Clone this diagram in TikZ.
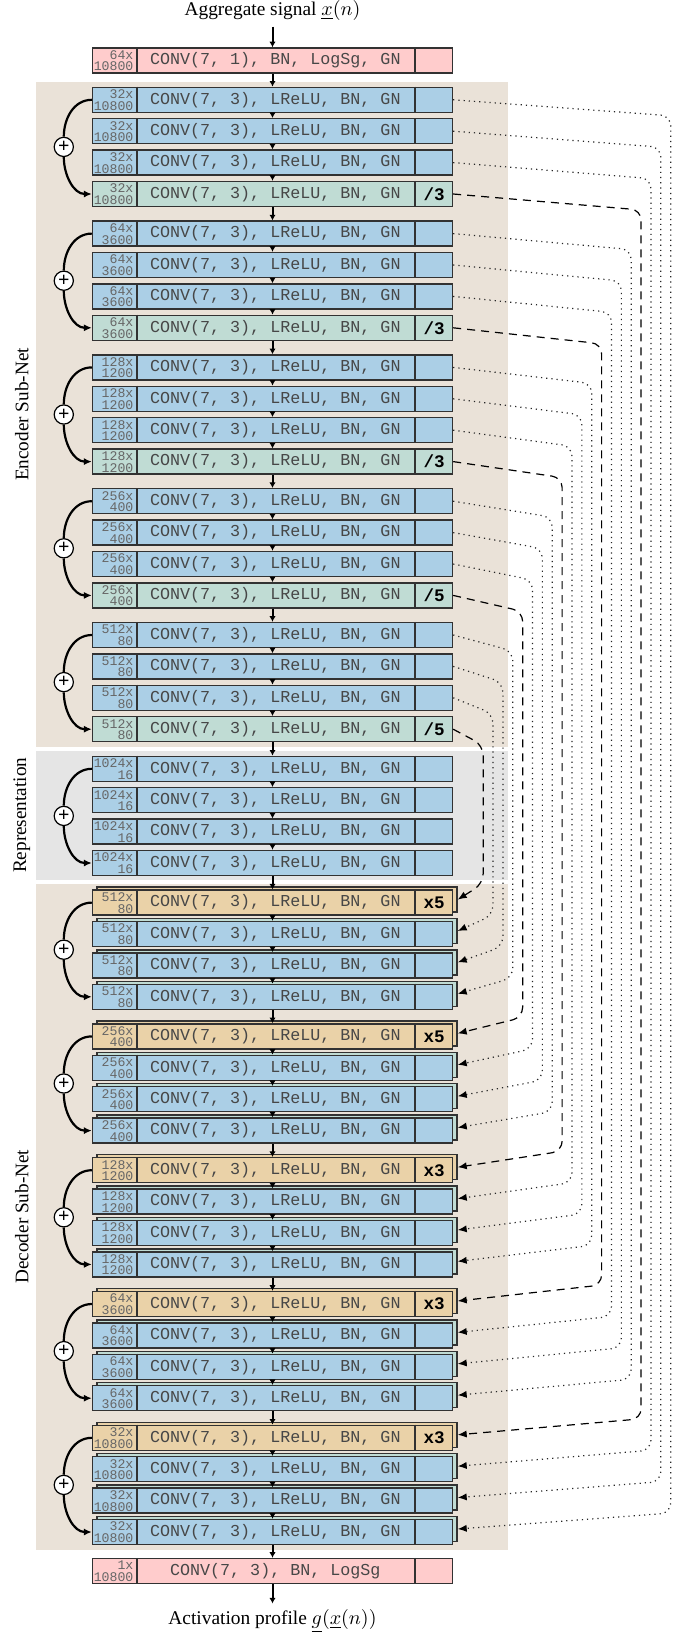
\documentclass[tikz,border=0pt]{standalone}
\usepackage{fontspec}
\setmainfont{Liberation Serif}
\setmonofont{Liberation Mono}
\usetikzlibrary{arrows.meta,calc}

\definecolor{cpink}{RGB}{255,204,204}
\definecolor{cblue}{RGB}{171,207,230}
\definecolor{cgreen}{RGB}{192,220,212}
\definecolor{ctan}{RGB}{234,210,168}
\definecolor{cencbg}{RGB}{234,226,216}
\definecolor{crepbg}{RGB}{229,229,229}
\definecolor{cborder}{RGB}{50,50,50}

\tikzset{
  blockbox/.style={rectangle, draw=cborder, line width=0.7pt, minimum width=180pt, minimum height=12.5pt, inner sep=0pt},
  sepline/.style={draw=cborder, line width=0.7pt},
  dimtext/.style={font=\fontsize{6.6}{5.8}\selectfont\ttfamily, text=black!60, align=right, inner sep=0pt, anchor=east},
  maintext/.style={font=\fontsize{8.35}{10}\selectfont\ttfamily, text=black!72, inner sep=0pt},
  optext/.style={font=\fontsize{8.8}{10}\selectfont\ttfamily\bfseries, text=black, inner sep=0pt},
  flow/.style={line width=1pt, -{Latex[length=2.8pt,width=3.2pt]}},
  skipline/.style={line width=1.1pt},
  skiparrow/.style={line width=1.1pt, -{Latex[length=4pt,width=3.6pt]}},
  plusnode/.style={circle, draw=black, fill=white, line width=0.6pt, minimum size=9.6pt, inner sep=0pt, font=\fontsize{10}{10}\selectfont\bfseries},
  dotconn/.style={dotted, line width=0.6pt, draw=black!85, rounded corners=5pt, -{Latex[length=4.5pt,width=3.6pt,black]}},
  dashconn/.style={dash pattern=on 4pt off 3pt, line width=0.6pt, draw=black, rounded corners=5pt, -{Latex[length=4.5pt,width=3.6pt,black]}},
  sidelabel/.style={rotate=90, font=\fontsize{9.6}{11}\selectfont, inner sep=0pt},
  titletext/.style={font=\fontsize{9.7}{11}\selectfont, inner sep=3pt},
}

\newcommand{\blk}[7]{%
  \node[blockbox, fill=#3] (#1) at (272.5,#2) {};
  \draw[sepline] ($(#1.north west)+(45.2,0)$) -- ($(#1.south west)+(45.2,0)$);
  \draw[sepline] ($(#1.north east)+(-38.2,0)$) -- ($(#1.south east)+(-38.2,0)$);
  \node[dimtext] (#1d) at ($(#1.west)+(42,0.3)$) {#4\\#5};
  \node[maintext] (#1t) at ($(#1.west)+(183.5,0)$) {#6};
  \node[optext] (#1o) at ($(#1.east)+(-19,0)$) {#7};
}
\newcommand{\dblk}[8]{%
  \node[blockbox, fill=#4] (#1s) at ($(272.5,#2)+(4.5,-3)$) {};
  \blk{#1}{#2}{#3}{#5}{#6}{#7}{#8}%
}

\begin{document}
\begin{tikzpicture}[x=0.5pt,y=-0.5pt]
\useasboundingbox (0,0) rectangle (693,1634);

% backgrounds
\fill[cencbg] (36,81.7) rectangle (508,747.3);
\fill[crepbg] (36,750.7) rectangle (508,880);
\fill[cencbg] (36,884) rectangle (508,1549.5);

\node[sidelabel] (lenc) at (21.7,414.5) {Encoder Sub-Net};
\node[sidelabel] (lrep) at (21.7,815.3) {Representation};
\node[sidelabel] (ldec) at (21.7,1216.7) {Decoder Sub-Net};

% top and bottom blocks
\blk{p0}{60.5}{cpink}{64x}{10800}{CONV(7, 1), BN, LogSg, GN}{}
\blk{p1}{1571}{cpink}{1x}{10800}{CONV(7, 3), BN, LogSg}{}

% encoder
\foreach \j/\da/\db/\dv in {0/32x/10800/3, 1/64x/3600/3, 2/128x/1200/3, 3/256x/400/5, 4/512x/80/5} {
  \foreach \k in {0,1,2,3} {
    \pgfmathtruncatemacro\idx{\j*4+\k+1}
    \pgfmathsetmacro\yy{99.8+133.8*\j+31.4*\k}
    \ifnum\k=3
      \blk{e\idx}{\yy}{cgreen}{\da}{\db}{CONV(7, 3), LReLU, BN, GN}{/\dv}
    \else
      \blk{e\idx}{\yy}{cblue}{\da}{\db}{CONV(7, 3), LReLU, BN, GN}{}
    \fi
  }
}

% representation
\foreach \k in {0,1,2,3} {
  \pgfmathtruncatemacro\idx{\k+1}
  \pgfmathsetmacro\yy{99.8+133.8*5+31.4*\k}
  \blk{r\idx}{\yy}{cblue}{1024x}{16}{CONV(7, 3), LReLU, BN, GN}{}
}

% decoder
\foreach \j/\da/\db/\mv in {6/512x/80/5, 7/256x/400/5, 8/128x/1200/3, 9/64x/3600/3, 10/32x/10800/3} {
  \foreach \k in {0,1,2,3} {
    \pgfmathtruncatemacro\idx{(\j-6)*4+\k+1}
    \pgfmathsetmacro\yy{99.8+133.8*\j+31.4*\k}
    \ifnum\k=0
      \dblk{d\idx}{\yy}{ctan}{ctan}{\da}{\db}{CONV(7, 3), LReLU, BN, GN}{x\mv}
    \else
      \dblk{d\idx}{\yy}{cblue}{cgreen}{\da}{\db}{CONV(7, 3), LReLU, BN, GN}{}
    \fi
  }
}

% title and output
\node[titletext, anchor=south] (title) at (272.5,26.5) {Aggregate signal $\underline{x}(n)$};
\node[titletext, anchor=north] (out) at (272.5,1603.5) {Activation profile $\underline{g}(\underline{x}(n))$};

% flow arrows
\draw[flow] (title.south) -- (p0.north);
\draw[flow] (p0.south) -- (e1.north);
\foreach \i [evaluate=\i as \n using int(\i+1)] in {1,...,19} {\draw[flow] (e\i.south) -- (e\n.north);}
\draw[flow] (e20.south) -- (r1.north);
\foreach \i [evaluate=\i as \n using int(\i+1)] in {1,2,3} {\draw[flow] (r\i.south) -- (r\n.north);}
\draw[flow] (r4.south) -- (d1.north);
\foreach \i [evaluate=\i as \n using int(\i+1)] in {1,...,19} {\draw[flow] (d\i.south) -- (d\n.north);}
\draw[flow] (d20.south) -- (p1.north);
\draw[flow] (p1.south) -- (out.north);

% skip connections
\foreach \a/\b in {e1/e4, e5/e8, e9/e12, e13/e16, e17/e20, r1/r4, d1/d4, d5/d8, d9/d12, d13/d16, d17/d20} {
  \node[plusnode] (pl\a) at ($(\a.west)!0.5!(\b.west)+(-28,0)$) {+};
  \draw[skipline] (\a.west) to[out=180,in=90] (pl\a.north);
  \draw[skiparrow] (pl\a.south) to[out=-90,in=180] (\b.west);
}

% encoder-decoder connectors
\foreach \i in {1,...,20} {
  \pgfmathtruncatemacro\m{21-\i}
  \pgfmathsetmacro\cx{670.7-(\i-1)*9.87}
  \pgfmathtruncatemacro\kk{mod(\i-1,4)}
  \coordinate (col\i) at (\cx,0);
  \coordinate (ca\i) at ($(e\i.east)+(0,16)$);
  \coordinate (cb\i) at ($(d\m s.east)+(0,-16)$);
  \ifnum\kk=3
    \draw[dashconn] (e\i.east) -- (ca\i -| col\i) -- (cb\i -| col\i) -- (d\m s.east);
  \else
    \draw[dotconn] (e\i.east) -- (ca\i -| col\i) -- (cb\i -| col\i) -- (d\m s.east);
  \fi
}
\end{tikzpicture}
\end{document}
